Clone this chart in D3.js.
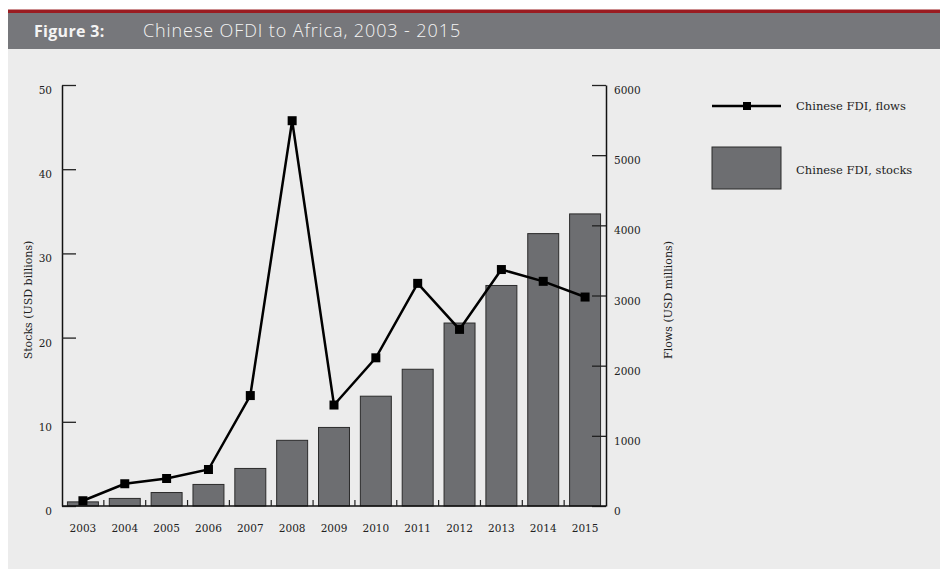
<!DOCTYPE html>
<html>
<head>
<meta charset="utf-8">
<script src="https://cdn.jsdelivr.net/npm/d3@7"></script>
<style>
	body { margin: 0; background: #fff; }
	svg { display: block; }
</style>
</head>
<body>
<svg id="viz_area" width="940" height="569"></svg>
<script>
const years = ['2003', '2004', '2005', '2006', '2007', '2008', '2009', '2010', '2011', '2012', '2013', '2014', '2015'];
// stocks, USD billions (left axis)
const stocks = [0.49, 0.90, 1.60, 2.56, 4.46, 7.80, 9.33, 13.04, 16.24, 21.73, 26.19, 32.35, 34.69];
// flows, USD millions (right axis)
const flows = [75, 317, 392, 520, 1574, 5491, 1439, 2112, 3173, 2517, 3370, 3202, 2978];
const stockTicks = [0, 10, 20, 30, 40, 50];
const flowTicks = [0, 1000, 2000, 3000, 4000, 5000, 6000];

const svg = d3.select('#viz_area');
const serif = '"DejaVu Serif", serif';

// page furniture
svg.append('rect').attr('x', 8).attr('y', 13).attr('width', 932).attr('height', 556).attr('fill', '#ececec');
svg.append('rect').attr('x', 8).attr('y', 9.5).attr('width', 932).attr('height', 3.5).attr('fill', '#9a1c21');
svg.append('rect').attr('x', 8).attr('y', 13).attr('width', 932).attr('height', 36).attr('fill', '#76777b');

const head = svg.append('text').attr('x', 34).attr('y', 37)
	.style('font-family', '"Open Sans", sans-serif').style('fill', '#f4f4f4');
head.append('tspan').text('Figure 3:').style('font-weight', 'bold').style('font-size', '16px').style('letter-spacing', '0.3px');
head.append('tspan').attr('x', 143).text('Chinese OFDI to Africa, 2003 - 2015')
	.style('font-weight', 300).style('font-size', '18px').style('letter-spacing', '0.9px');

// scales
const plotLeft = 62, plotRight = 606, plotTop = 85, plotBottom = 506;
let x = d3.scaleBand().domain(years).range([ plotLeft, plotRight ]).paddingInner(0.26).paddingOuter(0.13);
let yStock = d3.scaleLinear().domain([ 0, 50 ]).range([ plotBottom, plotTop ]);
let yFlow = d3.scaleLinear().domain([ 0, 6000 ]).range([ plotBottom, plotTop ]);

// bars
svg.append('g').selectAll('rect').data(years).join('rect')
	.attr('x', (d) => x(d))
	.attr('y', (d, i) => yStock(stocks[i]))
	.attr('width', x.bandwidth())
	.attr('height', (d, i) => plotBottom - yStock(stocks[i]))
	.attr('fill', '#6d6e71')
	.attr('stroke', '#2b2b2b')
	.attr('stroke-width', 1);

// axes
let leftAxis = svg.append('g').attr('transform', `translate(${plotLeft},0)`)
	.call(d3.axisRight(yStock).tickValues(stockTicks).tickSize(14).tickSizeOuter(0).tickFormat(''));
let rightAxis = svg.append('g').attr('transform', `translate(${plotRight},0)`)
	.call(d3.axisLeft(yFlow).tickValues(flowTicks).tickSize(14).tickSizeOuter(0).tickFormat(''));
[ leftAxis, rightAxis ].forEach((a) => {
	a.select('.domain').attr('stroke', '#111').attr('stroke-width', 1.5);
	a.selectAll('.tick line').attr('stroke', '#222').attr('stroke-width', 1.3);
});

// bottom axis line with tick marks on the band boundaries
svg.append('line').attr('x1', plotLeft).attr('x2', plotRight).attr('y1', plotBottom).attr('y2', plotBottom)
	.attr('stroke', '#111').attr('stroke-width', 1.5);
let step = x.step();
svg.append('g').selectAll('line').data(years.slice(1)).join('line')
	.attr('x1', (d) => x(d) - step * x.paddingInner() / 2)
	.attr('x2', (d) => x(d) - step * x.paddingInner() / 2)
	.attr('y1', plotBottom).attr('y2', plotBottom - 6)
	.attr('stroke', '#222').attr('stroke-width', 1.2);

// tick labels
svg.append('g').selectAll('text').data(stockTicks).join('text')
	.attr('x', 52).attr('y', (d) => yStock(d) + 9)
	.attr('text-anchor', 'end').text((d) => d)
	.style('font-family', serif).style('font-size', '10.5px').style('fill', '#222');
svg.append('g').selectAll('text').data(flowTicks).join('text')
	.attr('x', 614).attr('y', (d) => yFlow(d) + 9)
	.text((d) => d)
	.style('font-family', serif).style('font-size', '10.5px').style('fill', '#222');
svg.append('g').selectAll('text').data(years).join('text')
	.attr('x', (d) => x(d) + x.bandwidth() / 2).attr('y', 532)
	.attr('text-anchor', 'middle').text((d) => d)
	.style('font-family', serif).style('font-size', '10.5px').style('fill', '#222');

// axis titles
svg.append('text').attr('transform', 'translate(32,300) rotate(-90)')
	.attr('text-anchor', 'middle').text('Stocks (USD billions)')
	.style('font-family', serif).style('font-size', '11px').style('fill', '#222');
svg.append('text').attr('transform', 'translate(672,300) rotate(-90)')
	.attr('text-anchor', 'middle').text('Flows (USD millions)')
	.style('font-family', serif).style('font-size', '11px').style('fill', '#222');

// flows line
let lineFunction = d3.line()
	.x((d, i) => x(years[i]) + x.bandwidth() / 2)
	.y((d) => yFlow(d));
svg.append('path').attr('d', lineFunction(flows))
	.attr('fill', 'none').attr('stroke', '#000').attr('stroke-width', 2.5);
svg.append('g').selectAll('rect').data(flows).join('rect')
	.attr('x', (d, i) => x(years[i]) + x.bandwidth() / 2 - 4.5)
	.attr('y', (d) => yFlow(d) - 4.5)
	.attr('width', 9).attr('height', 9).attr('fill', '#000');

// legend
let legend = svg.append('g');
legend.append('line').attr('x1', 712).attr('x2', 781).attr('y1', 106).attr('y2', 106)
	.attr('stroke', '#000').attr('stroke-width', 2.5);
legend.append('rect').attr('x', 743).attr('y', 102).attr('width', 8).attr('height', 8).attr('fill', '#000');
legend.append('text').attr('x', 796).attr('y', 110).text('Chinese FDI, flows')
	.style('font-family', serif).style('font-size', '11.5px').style('fill', '#222');
legend.append('rect').attr('x', 712).attr('y', 147).attr('width', 69).attr('height', 42)
	.attr('fill', '#6d6e71').attr('stroke', '#2b2b2b').attr('stroke-width', 1);
legend.append('text').attr('x', 796).attr('y', 174).text('Chinese FDI, stocks')
	.style('font-family', serif).style('font-size', '11.5px').style('fill', '#222');
</script>
</body>
</html>
